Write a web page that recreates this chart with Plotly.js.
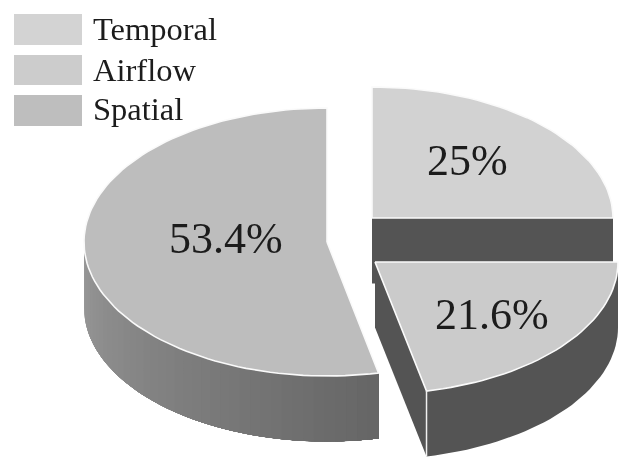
<!DOCTYPE html>
<html>
<head>
<meta charset="utf-8">
<script src="https://cdn.plot.ly/plotly-3.0.1.min.js"></script>
<style>
  html, body { margin: 0; padding: 0; background: #fff; }
  /* the source picture is a soft scan */
  #chart { width: 636px; height: 472px; filter: blur(0.5px); }
</style>
</head>
<body>
<div id="chart"></div>
<script>
// chart data
var labels = ['Temporal', 'Airflow', 'Spatial'];
var values = [25, 21.6, 53.4];

// styles
var topColors = ['#d2d2d2', '#cbcbcb', '#bdbdbd'];
var swatchColors = ['#d3d3d3', '#cccccc', '#bebebe'];
var darkSide = '#545454';
var textColor = '#1c1c1c';
var serif = '"Liberation Serif", serif';

// exploded slice placement in pixels
var cx = [372, 375, 327];
var cy = [218, 262, 242];
var rx = [241, 243, 243];
var ry = [131, 132, 134];
var depth = 65.5;
var labelX = [467, 492, 226];
var labelY = [160, 314, 238];

var traces = [];

function pt(i, deg, drop) {
  var a = deg * Math.PI / 180;
  return [cx[i] + rx[i] * Math.sin(a), cy[i] - ry[i] * Math.cos(a) + drop];
}

function poly(points, fill, lineColor, lineWidth) {
  traces.push({
    type: 'scatter',
    mode: 'lines',
    x: points.map(function (p) { return p[0]; }),
    y: points.map(function (p) { return p[1]; }),
    fill: 'toself',
    fillcolor: fill,
    line: { color: lineColor, width: lineWidth },
    hoverinfo: 'skip',
    showlegend: false
  });
}

function arc(i, from, to, drop) {
  var pts = [];
  var n = Math.max(2, Math.ceil(Math.abs(to - from) / 2));
  for (var k = 0; k <= n; k++) {
    pts.push(pt(i, from + (to - from) * k / n, drop));
  }
  return pts;
}

// outer wall between two angles
function wall(i, from, to, color) {
  var pts = arc(i, from, to, 0).concat(arc(i, to, from, depth));
  poly(pts, color, color, 0);
}

// slice angles from the values, clockwise from 12 o'clock
var total = values.reduce(function (a, b) { return a + b; }, 0);
var sliceStart = [];
var sliceEnd = [];
var sum = 0;
values.forEach(function (v, i) {
  sliceStart[i] = sum / total * 360;
  sum += v;
  sliceEnd[i] = sum / total * 360;
});

function sliceTop(i) {
  var pts = [[cx[i], cy[i]]].concat(arc(i, sliceStart[i], sliceEnd[i], 0));
  pts.push([cx[i], cy[i]]);
  poly(pts, topColors[i], '#fafafa', 1.6);
}

// Temporal: only its flat cut face shows below the top
poly([pt(0, sliceEnd[0], 0), [cx[0], cy[0]], [cx[0], cy[0] + depth], pt(0, sliceEnd[0], depth)], darkSide, darkSide, 0);
sliceTop(0);

// Airflow: cut face, then round wall
poly([[cx[1], cy[1]], pt(1, sliceEnd[1], 0), pt(1, sliceEnd[1], depth), [cx[1], cy[1] + depth]], darkSide, darkSide, 0);
wall(1, sliceStart[1], sliceEnd[1], darkSide);
sliceTop(1);

// Spatial: wall gets darker to the right. Bands overlap, painted from
// the far left inwards, so no seams show between them
var bands = 40;
var wallEnd = 270;
for (var b = bands - 1; b >= 0; b--) {
  var f = b / (bands - 1);
  var g = Math.round(0x66 + (0x98 - 0x66) * f);
  var grey = 'rgb(' + g + ',' + g + ',' + g + ')';
  wall(2, sliceStart[2], sliceStart[2] + (wallEnd - sliceStart[2]) * (b + 1) / bands, grey);
}
sliceTop(2);

// white edge where the Airflow wall turns the corner
traces.push({
  type: 'scatter', mode: 'lines',
  x: [pt(1, sliceEnd[1], 0)[0], pt(1, sliceEnd[1], depth)[0]],
  y: [pt(1, sliceEnd[1], 0)[1], pt(1, sliceEnd[1], depth)[1]],
  line: { color: '#f0f0f0', width: 1.5 },
  hoverinfo: 'skip', showlegend: false
});

var annotations = [];
var shapes = [];

labels.forEach(function (name, i) {
  annotations.push({
    x: labelX[i], y: labelY[i], xref: 'x', yref: 'y',
    text: values[i] + '%', showarrow: false,
    font: { family: serif, size: 44, color: textColor }
  });
});

// legend, drawn by hand for the wide swatches
var swatchTop = [14, 55, 95];
var swatchBottom = [45, 85, 126];
var legendY = [29, 70, 109];
labels.forEach(function (name, i) {
  shapes.push({
    type: 'rect', xref: 'x', yref: 'y',
    x0: 14, x1: 82, y0: swatchTop[i], y1: swatchBottom[i],
    fillcolor: swatchColors[i], line: { width: 0 }, layer: 'below'
  });
  annotations.push({
    x: 91, y: legendY[i], xref: 'x', yref: 'y', xanchor: 'left',
    text: name, showarrow: false,
    font: { family: serif, size: 32.5, color: textColor }
  });
});

var layout = {
  width: 636,
  height: 472,
  margin: { l: 0, r: 0, t: 0, b: 0 },
  paper_bgcolor: '#ffffff',
  plot_bgcolor: '#ffffff',
  showlegend: false,
  xaxis: { range: [0, 636], visible: false, fixedrange: true },
  yaxis: { range: [472, 0], visible: false, fixedrange: true },
  annotations: annotations,
  shapes: shapes
};

Plotly.newPlot('chart', traces, layout, { displayModeBar: false, staticPlot: true });
</script>
</body>
</html>
